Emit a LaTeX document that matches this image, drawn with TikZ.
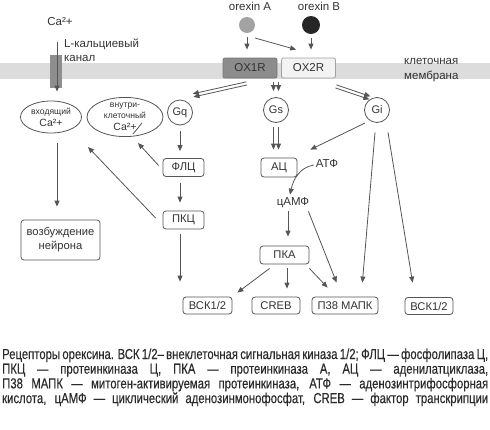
\documentclass[tikz,border=0pt]{standalone}
\usepackage{fontspec}
\setmainfont{Liberation Sans}
\newfontfamily\capfont[FakeStretch=0.78,FakeBold=0.3]{Liberation Sans}
\usetikzlibrary{arrows.meta,calc,shapes.geometric}
\definecolor{ln}{HTML}{555555}
\definecolor{txt}{HTML}{333333}
\definecolor{captxt}{HTML}{2A2A2A}
\definecolor{memb}{HTML}{DCDCDC}
\definecolor{chan}{HTML}{8E8E8E}
\definecolor{rone}{HTML}{8C8C8C}
\definecolor{rtwo}{HTML}{F3F3F3}
\definecolor{oxagray}{HTML}{A3A3A3}
\definecolor{oxbblack}{HTML}{262626}
\newcommand{\smallcell}{\fontsize{8.6}{8.6}\selectfont}
\newcommand{\capsetup}{\capfont\fontsize{14.5}{14.7}\selectfont\spaceskip=0.15em plus 1em minus 0.05em\relax}
\tikzset{
  arr/.style={ln, line width=0.8pt, -{Triangle[length=6pt,width=5pt]}},
  lab/.style={text=txt, inner sep=0pt, font=\fontsize{11.5}{14}\selectfont},
  box/.style={draw=ln, rounded corners=3pt, line width=0.8pt, fill=white, text=txt,
    inner sep=0pt, align=center, font=\fontsize{11.2}{14}\selectfont},
  rec/.style={rounded corners=2pt, line width=0.8pt, minimum width=54pt, minimum height=20pt,
    inner sep=0pt, text=txt, font=\fontsize{11.5}{14}\selectfont},
  gprot/.style={circle, draw=ln, line width=0.8pt, fill=white, minimum size=25pt,
    inner sep=0pt, text=txt, font=\fontsize{11}{14}\selectfont},
  cell/.style={ellipse, draw=ln, line width=0.8pt, inner sep=0pt, align=center, text=txt,
    font=\fontsize{10.5}{11}\selectfont},
  capt/.style={anchor=base west, inner sep=0pt, text=captxt, font=\capsetup}
}

\begin{document}
\begin{tikzpicture}[x=1pt,y=-1pt]
		\useasboundingbox (0,0) rectangle (490,429);
		\fill[memb] (0,63) rectangle (490,79);
		\node[fill=chan, minimum width=12pt, minimum height=33pt, inner sep=0pt] (chan) at (56,71.5) {};
		
		\node[lab] (ca) at (60,22) {Ca²+};
		\node[lab, anchor=west, align=left] (lch) at (64,50) {L-кальциевый\\канал};
		\node[lab] (oxat) at (250,6) {orexin A};
		\node[lab] (oxbt) at (319,6) {orexin B};
		\node[circle, fill=oxagray, minimum size=16pt, inner sep=0pt] (oxa) at (247,25) {};
		\node[circle, fill=oxbblack, minimum size=18pt, inner sep=0pt] (oxb) at (311,25) {};
		\node[rec, fill=rone, draw=rone!85!black] (ox1) at (250,68) {OX1R};
		\node[rec, fill=rtwo, draw=ln!55] (ox2) at (308.5,68) {OX2R};
		\node[lab, anchor=west, align=left, font=\fontsize{11.5}{15}\selectfont] (mem) at (404,70.5) {клеточная\\мембрана};
		
		\node[gprot] (gq) at (180,112.5) {Gq};
		\node[gprot] (gs) at (276,110) {Gs};
		\node[gprot] (gi) at (377,110) {Gi};
		\node[cell, minimum width=61pt, minimum height=32pt] (inCa) at (51,117) {{\smallcell входящий}\\[1pt]Ca²+};
		\node[cell, minimum width=76pt, minimum height=38pt] (icCa) at (125,117) {{\smallcell внутри-}\\{\smallcell клеточный}\\[1pt]Ca²+};
		
		\node[box, minimum width=79pt, minimum height=40pt] (exc) at (60.5,240) {возбуждение\\нейрона};
		\node[box, minimum width=41pt, minimum height=18pt] (plc) at (183.5,167.5) {ФЛЦ};
		\node[box, minimum width=41pt, minimum height=18pt] (pkc) at (183.5,220) {ПКЦ};
		\node[box, minimum width=36pt, minimum height=19pt] (ac) at (279,167.5) {АЦ};
		\node[lab] (atp) at (327,163.5) {АТФ};
		\node[lab] (camp) at (293,203) {цАМФ};
		\node[box, minimum width=49pt, minimum height=18pt] (pka) at (284.5,255) {ПКА};
		\node[box, minimum width=49pt, minimum height=17pt] (erka) at (207.5,305.5) {ВСК1/2};
		\node[box, minimum width=48pt, minimum height=17pt] (creb) at (276,305.5) {CREB};
		\node[box, minimum width=66pt, minimum height=17pt] (p38) at (345,305.5) {П38 МАПК};
		\node[box, minimum width=48pt, minimum height=17pt] (erkb) at (429,306) {ВСК1/2};
		
		\coordinate (cain) at (57,42);
		\draw[arr, shorten >=9pt] (cain) -- (cain |- inCa.north);
		\draw[arr, shorten <=4pt, shorten >=8pt] (oxa) -- (oxa |- ox1.north);
		\draw[arr] ($(oxa)+(8,13)$) -- ($(ox2.north west)+(15,-8)$);
		\draw[arr, shorten <=4pt, shorten >=8pt] (oxb) -- (oxb |- ox2.north);
		
		\foreach \s in {-1.6,1.6}
		{\draw[arr] ($(ox1.south west)+(24,5)+(\s*0.23,\s*0.97)$) -- ($(gq.north east)+(4,-8)+(\s*0.23,\s*0.97)$);
			\draw[arr] ($(ox2.south east)+(0,8)+(\s*-0.32,\s*0.95)$) -- ($(gi.north west)+(2,-3)+(\s*-0.32,\s*0.95)$);
		}
		\foreach \s in {-2.5,2.5}
		{\draw[arr] ($(ox1.south -| gs.north)+(\s,4)$) -- ($(gs.north)+(\s,-6)$);
			\draw[arr] ($(gs.south)+(\s,4)$) -- ($(gs.south |- ac.north)+(\s,-8)$);
		}
		
		\coordinate (acin) at ($(ac.north east)+(13,-8)$);
		\draw[arr] ($(gi)+(-12,13)$) -- (acin);
		\draw[arr] ($(atp.west)+(-2,1.5)$) to[out=190,in=78] ($(camp.north)+(-3,-3)$);
		\draw[arr] ($(camp.south)+(-5,3)$) -- ($(pka.north)+(3.5,-9)$);
		\draw[arr] ($(camp.south east)+(-1,3)$) -- ($(p38.north west)+(25,-14)$);
		\draw[arr] ($(pka.south west)+(10,4)$) -- ($(erka.north east)+(5,-4)$);
		\draw[arr] ($(pka.south)+(2.5,4)$) -- ($(pka.south |- creb.north)+(2.5,-8)$);
		\draw[arr] ($(pka.south east)+(0,4)$) -- ($(p38.north west)+(16,-9)$);
		\draw[arr] ($(gi.south)+(-2,9.5)$) -- ($(p38.north east)+(-16,-14)$);
		\draw[arr] ($(gi.south)+(11,9.5)$) -- ($(erkb.north west)+(8,-14.5)$);
		
		\draw[arr, shorten <=6pt, shorten >=7pt] (gq.south) -- (gq.south |- plc.north);
		\draw[arr] ($(plc.south)+(-3.5,6)$) -- ($(pkc.north)+(-3.5,-8)$);
		\draw[arr] ($(pkc.south)+(-3.5,5)$) -- ($(pkc.south |- erka.north)+(-3.5,-15)$);
		\draw[arr] ($(plc.west)+(-4,-2)$) -- ($(icCa)+(13,26)$);
		\draw[arr] ($(pkc.west)+(-7,-2)$) -- ($(inCa)+(37,30)$);
		\draw[arr] ($(inCa.south)+(6,10)$) -- ($(exc.north)+(-3.5,-13)$);
		\draw[ln, line width=0.8pt] ($(icCa)+(8,17)$) -- ($(icCa)+(17,6)$);
		
		\node[capt] (capa) at (2,359) {\hbox to 486pt{Рецепторы орексина. ВСК 1/2– внеклеточная сигнальная киназа 1/2; ФЛЦ — фосфолипаза Ц,}};
		\node[capt] (capb) at ($(capa.base west)+(0,14.7)$) {\hbox to 486pt{ПКЦ — протеинкиназа Ц, ПКА — протеинкиназа А, АЦ — аденилатциклаза,}};
		\node[capt] (capc) at ($(capb.base west)+(0,14.7)$) {\hbox to 486pt{П38 МАПК — митоген-активируемая протеинкиназа, АТФ — аденозинтрифосфорная}};
		\node[capt] (capd) at ($(capc.base west)+(0,14.7)$) {\hbox to 486pt{кислота, цАМФ — циклический аденозинмонофосфат, CREB — фактор транскрипции}};
\end{tikzpicture}
\end{document}
